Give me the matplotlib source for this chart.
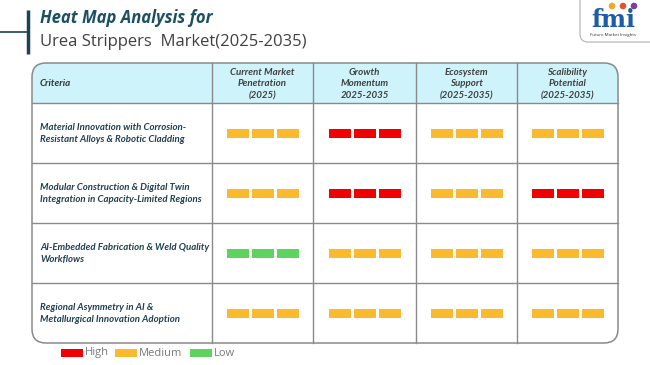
import matplotlib.pyplot as plt
from matplotlib.patches import FancyBboxPatch, Rectangle

# Table content
columns = ['Current Market\nPenetration\n(2025)', 'Growth\nMomentum\n2025-2035',
           'Ecosystem\nSupport\n(2025-2035)', 'Scalibility\nPotential\n(2025-2035)']
criteria = ['Material Innovation with Corrosion-\nResistant Alloys & Robotic Cladding',
            'Modular Construction & Digital Twin\nIntegration in Capacity-Limited Regions',
            'AI-Embedded Fabrication & Weld Quality\nWorkflows',
            'Regional Asymmetry in AI &\nMetallurgical Innovation Adoption']
# ratings per row, per column
ratings = [['Medium', 'High', 'Medium', 'Medium'],
           ['Medium', 'High', 'Medium', 'High'],
           ['Low', 'Medium', 'Medium', 'Medium'],
           ['Medium', 'Medium', 'Medium', 'Medium']]
levels = ['High', 'Medium', 'Low']
level_colors = {'High': '#f00000', 'Medium': '#fbb92e', 'Low': '#5fd35f'}

plt.rcParams['font.family'] = ['Open Sans', 'DejaVu Sans']
body_font = ['Lato', 'DejaVu Sans']

fig = plt.figure(figsize=(6.5, 3.65), dpi=100)
ax = fig.add_axes([0, 0, 1, 1])
ax.set_xlim(0, 650)
ax.set_ylim(365, 0)
ax.axis('off')

# title block
ax.plot([28, 28], [10, 54], color='#1b4256', lw=2.5, solid_capstyle='butt')
ax.plot([0, 28], [32, 32], color='#1b4256', lw=1.2)
ax.text(40, 18, 'Heat Map Analysis for', fontsize=12, fontweight='bold', style='italic',
        color='#1b4f61', va='center', ha='left')
ax.text(40, 42, 'Urea Strippers  Market(2025-2035)', fontsize=12, color='#404040',
        va='center', ha='left')

# logo
logo = FancyBboxPatch((580, -12), 82, 54, boxstyle='round,pad=0,rounding_size=8',
                      fc='white', ec='#b0b0b0', lw=0.8)
ax.add_patch(logo)
ax.text(613, 20, 'fmi', fontsize=17, fontweight='bold', color='#1f5ba6',
        ha='center', va='center', family='DejaVu Serif')
for cx, c in zip([612, 623, 634], ['#f5a623', '#e2542b', '#7b3fa0']):
    ax.add_patch(plt.Circle((cx, 6), 2.6, color=c))
ax.text(613, 35, 'Future Market Insights', fontsize=3.2, color='#333333',
        ha='center', va='center')

# table geometry
left, right = 32, 618
top, head_bot = 63, 103
row_h = 60
col_x = [212, 313, 416, 517, 618]
bottom = head_bot + row_h * len(criteria)

frame = FancyBboxPatch((left, top), right - left, bottom - top,
                       boxstyle='round,pad=0,rounding_size=14',
                       fc='none', ec='#8a8a8a', lw=1.1, zorder=3)
ax.add_patch(frame)
head = Rectangle((left, top), right - left, head_bot - top, fc='#cff3fb', ec='none', zorder=1)
ax.add_patch(head)
head.set_clip_path(frame)

# grid lines
for x in col_x[:-1]:
    ax.plot([x, x], [top, bottom], color='#8a8a8a', lw=1.0, zorder=2)
for i in range(len(criteria)):
    y = head_bot + row_h * i
    ax.plot([left, right], [y, y], color='#8a8a8a', lw=1.0, zorder=2)

txt_color = '#1f3f4f'
ax.text(40, 83, 'Criteria', fontsize=7, style='italic', fontweight='bold',
        color='#333333', va='center', ha='left', family=body_font)
for j, name in enumerate(columns):
    cx = (col_x[j] + col_x[j + 1]) / 2
    ax.text(cx, 84, name, fontsize=7, style='italic', fontweight='bold',
            color='#404040', va='center', ha='center', linespacing=1.4, family=body_font)

seg_w, seg_h, gap = 22, 9, 3
for i, name in enumerate(criteria):
    cy = head_bot + row_h * i + row_h / 2
    ax.text(40, cy + 0.5, name, fontsize=6.9, style='italic', fontweight='bold',
            color=txt_color, va='center', ha='left', linespacing=1.55, family=body_font)
    for j, lvl in enumerate(ratings[i]):
        cx = (col_x[j] + col_x[j + 1]) / 2
        x0 = cx - (3 * seg_w + 2 * gap) / 2
        for k in range(3):
            ax.add_patch(Rectangle((x0 + k * (seg_w + gap), cy - seg_h / 2), seg_w, seg_h,
                                   fc=level_colors[lvl], ec='none', zorder=4))

# legend
lx = 61
for lvl, w in zip(levels, [54, 75, 50]):
    ax.add_patch(Rectangle((lx, 349), 22, 8, fc=level_colors[lvl], ec='none'))
    ax.text(lx + 24, 353, lvl, fontsize=8, color='#7a7a7a', va='center', ha='left')
    lx += w

fig.savefig('out.png', dpi=100)
